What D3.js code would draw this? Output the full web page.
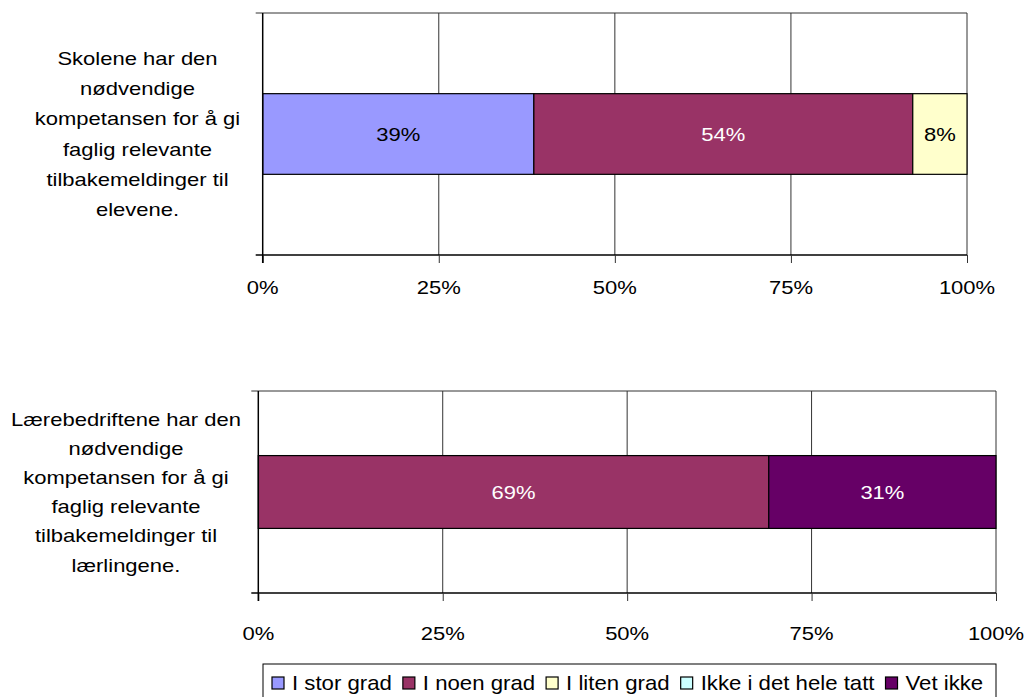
<!DOCTYPE html>
<html>
<head>
<meta charset="utf-8">
<script src="https://cdn.jsdelivr.net/npm/d3@7"></script>
<style>
  html, body { margin: 0; padding: 0; background: #fff; }
  svg text { font-family: "Liberation Sans", Arial, sans-serif; }
</style>
</head>
<body>
<svg id="chart" width="1027" height="697"></svg>
<script>
// ---- data ----
const seriesNames = ["I stor grad", "I noen grad", "I liten grad", "Ikke i det hele tatt", "Vet ikke"];
const seriesColors = ["#9999FF", "#993366", "#FFFFCC", "#CCFFFF", "#660066"];
const categoryLabels = [
  ["Skolene har den", "nødvendige", "kompetansen for å gi", "faglig relevante", "tilbakemeldinger til", "elevene."],
  ["Lærebedriftene har den", "nødvendige", "kompetansen for å gi", "faglig relevante", "tilbakemeldinger til", "lærlingene."]
];
const valuesSkolene = [38.5, 53.8, 7.7, 0, 0];
const valuesLaerebedrift = [0, 69.2, 0, 0, 30.8];
const tickValues = [0, 25, 50, 75, 100];
const tickLabels = ["0%", "25%", "50%", "75%", "100%"];

const panelValues = [valuesSkolene, valuesLaerebedrift];

// ---- layout ----
const FS = 18.8, SX = 1.17;
const panels = [
  { x0: 262.7, x1: 967, y0: 13, y1: 255, pad: 0.5, labelX: 137.5, lineH: 30.2, tickY: 294 },
  { x0: 258.3, x1: 996, y0: 391, y1: 593, pad: 0.47, labelX: 126, lineH: 29.2, tickY: 640 }
];

const svg = d3.select("#chart");

function stext(g, x, y, str, anchor, fill, fs, sx) {
  return g.append("text")
    .attr("transform", `translate(${x},${y}) scale(${sx || SX},1)`)
    .attr("text-anchor", anchor || "middle")
    .attr("font-size", fs || FS)
    .attr("fill", fill || "#000")
    .text(str);
}

panels.forEach((p, i) => {
  const g = svg.append("g");
  const x = d3.scaleLinear().domain([0, 100]).range([p.x0, p.x1]);
  const y = d3.scaleBand().domain([0]).range([p.y0, p.y1]).padding(p.pad);

  // gridlines
  g.selectAll("line.grid").data(tickValues.slice(1)).enter().append("line")
    .attr("x1", d => x(d)).attr("x2", d => x(d))
    .attr("y1", p.y0).attr("y2", p.y1)
    .attr("stroke", "#333").attr("stroke-width", 1);
  // top border
  g.append("line").attr("x1", p.x0 - 7).attr("x2", p.x1).attr("y1", p.y0).attr("y2", p.y0)
    .attr("stroke", "#333").attr("stroke-width", 1);

  // stacked bars
  const vals = panelValues[i];
  const stackData = [];
  let acc = 0;
  vals.forEach((v, k) => { stackData.push({ k, v, s: acc, e: acc + v }); acc += v; });
  const nonzero = stackData.filter(d => d.v > 0);
  g.selectAll("rect.bar").data(nonzero).enter().append("rect")
    .attr("x", d => x(d.s)).attr("width", d => x(d.e) - x(d.s))
    .attr("y", y(0)).attr("height", y.bandwidth())
    .attr("fill", d => seriesColors[d.k])
    .attr("stroke", "#000").attr("stroke-width", 1.2);
  nonzero.forEach(d => {
    const dark = (d.k === 1 || d.k === 4);
    stext(g, (x(d.s) + x(d.e)) / 2, y(0) + y.bandwidth() / 2 + 7, Math.round(d.v) + "%", "middle", dark ? "#fff" : "#000");
  });

  // x axis
  const xAxis = d3.axisBottom(x).tickValues(tickValues).tickSize(8).tickFormat("");
  const ax = g.append("g").attr("transform", `translate(0,${p.y1})`).call(xAxis);
  ax.select(".domain").attr("stroke", "#000").attr("stroke-width", 1.5).attr("d", `M${p.x0 - 7},0H${p.x1}`);
  ax.selectAll(".tick line").attr("stroke", "#333");
  tickValues.forEach((t, j) => stext(g, x(t), p.tickY, tickLabels[j], "middle"));

  // y axis
  g.append("line").attr("x1", p.x0).attr("x2", p.x0).attr("y1", p.y0).attr("y2", p.y1 + 8)
    .attr("stroke", "#000").attr("stroke-width", 1.5);

  // category label
  const lines = categoryLabels[i];
  const mid = (p.y0 + p.y1) / 2;
  const firstBase = mid + 6.5 - (lines.length - 1) * p.lineH / 2;
  lines.forEach((ln, j) => stext(g, p.labelX, firstBase + j * p.lineH, ln, "middle"));
});

// legend
const lg = svg.append("g");
lg.append("rect").attr("x", 263).attr("y", 664).attr("width", 733).attr("height", 50)
  .attr("fill", "#fff").attr("stroke", "#000").attr("stroke-width", 1);
let lx = 272;
const baseY = 690;
const LFS = 20, LSX = 1.11;
seriesNames.forEach((name, k) => {
  lg.append("rect").attr("x", lx).attr("y", baseY - 13).attr("width", 12).attr("height", 12)
    .attr("fill", seriesColors[k]).attr("stroke", "#000").attr("stroke-width", 1.2);
  const t = stext(lg, lx + 20, baseY, name, "start", "#000", LFS, LSX);
  const w = t.node().getComputedTextLength() * LSX;
  lx = lx + 20 + w + 11;
});
</script>
</body>
</html>
